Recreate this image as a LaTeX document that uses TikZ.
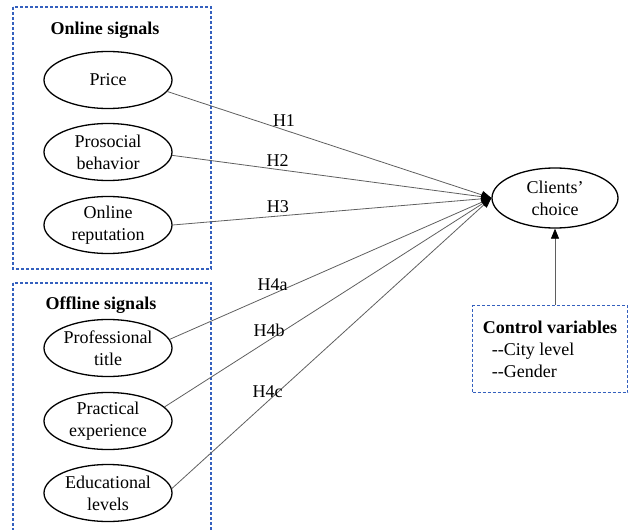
\documentclass[tikz,border=0pt]{standalone}
\usepackage{fontspec}
\setmainfont{Liberation Serif}
\usetikzlibrary{shapes.geometric,arrows.meta}
\usepackage{xcolor}
\definecolor{boxblue}{RGB}{52,96,190}
\definecolor{linegray}{RGB}{95,95,95}

\begin{document}
\begin{tikzpicture}[
x=1pt, y=-1pt,
font=\fontsize{18}{22}\selectfont,
signal/.style={
	ellipse, draw=black, line width=1.3pt,
	minimum width=128pt, minimum height=57pt,
	inner sep=0pt, align=center,
},
group/.style={draw=boxblue, line width=1.2pt, dash pattern=on 3pt off 2pt},
hyp/.style={draw=linegray, line width=0.8pt,
	-{Triangle[length=10pt,width=8pt,color=black,fill=black]}},
hlabel/.style={above, inner sep=3pt},
]
\useasboundingbox (0,0) rectangle (632,530);
\clip (0,0) rectangle (632,530);

% signal groups
\draw[group] (13,7) rectangle (211,269);
\draw[group] (13,283) rectangle (211,545);
\node[font=\fontsize{18}{22}\selectfont\bfseries] (online) at (105,30) {Online signals};
\node[font=\fontsize{18}{22}\selectfont\bfseries] (offline) at (101,305) {Offline signals};

\node[signal] (price) at (108,80) {Price};
\node[signal] (prosocial) at (108,152) {Prosocial\\behavior};
\node[signal] (reputation) at (108,225) {Online\\reputation};
\node[signal] (title) at (108,348) {Professional\\title};
\node[signal] (experience) at (108,421) {Practical\\experience};
\node[signal] (levels) at (108,493) {Educational\\levels};

\node[signal, minimum width=126pt, minimum height=60pt] (choice) at (555,198) {Clients'\\choice};

\node[group, minimum width=155pt, minimum height=87pt, align=left] (control) at (550,349) {
	\textbf{Control variables}\\
	\hspace{9pt}-{}-City level\\
	\hspace{9pt}-{}-Gender
	};

% hypotheses
\draw[hyp] (price.-11) -- node[hlabel, pos=.36] (h1) {H1} (choice.west);
\draw[hyp] (prosocial.-3) -- node[hlabel, pos=.33] (h2) {H2} (choice.west);
\draw[hyp] (reputation.0) -- node[hlabel, pos=.33] (h3) {H3} (choice.west);
\draw[hyp] (title.8) -- node[hlabel, pos=.32] (h4a) {H4a} (choice.west);
\draw[hyp] (experience.14) -- node[hlabel, pos=.32] (h4b) {H4b} (choice.west);
\draw[hyp] (levels.4) -- node[hlabel, pos=.30] (h4c) {H4c} (choice.west);

\draw[hyp] (choice.south |- control.north) -- (choice.south);
\end{tikzpicture}
\end{document}
